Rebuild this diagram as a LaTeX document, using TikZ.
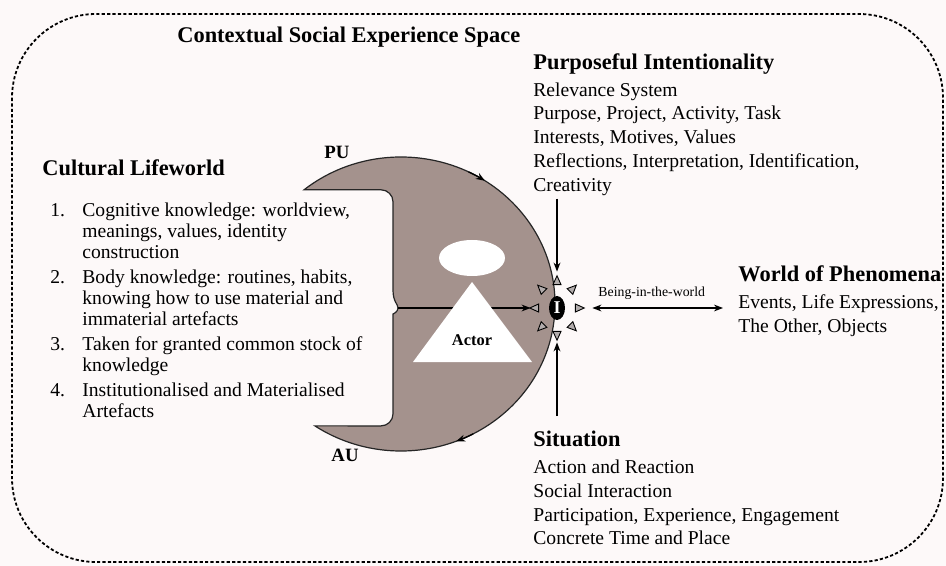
\documentclass[tikz,border=0pt]{standalone}
\usepackage{fontspec}
\setmainfont{Liberation Serif}
\usetikzlibrary{positioning,shapes.geometric,arrows.meta}

\definecolor{paper}{RGB}{253,249,249}
\definecolor{hornfill}{RGB}{164,146,141}
\definecolor{rayfill}{RGB}{178,172,172}

\newcommand{\headfont}{\fontsize{11.2}{13}\selectfont\bfseries}
\newcommand{\bodyfont}{\fontsize{9.8}{11.85}\selectfont}
\newcommand{\listfont}{\fontsize{9.8}{10.5}\selectfont}
\newcommand{\itemno}[1]{\makebox[16pt][l]{#1}}

\tikzstyle{spaceframe}=[draw=black,line width=0.9pt,dash pattern=on 1.6pt off 1.1pt,
                        rounded corners=42pt]
\tikzstyle{horn}=[fill=hornfill,draw=black!85,line width=0.6pt]
\tikzstyle{heading}=[inner sep=0pt,anchor=base west,font=\headfont]
\tikzstyle{body}=[inner sep=0pt,align=left,font=\bodyfont]
\tikzstyle{tag}=[inner sep=0pt,font=\fontsize{9.4}{10}\selectfont\bfseries]
\tikzstyle{selfmark}=[ellipse,fill=black,text=white,inner sep=0pt,
                      minimum width=8pt,minimum height=12pt,
                      font=\fontsize{9}{9}\selectfont\bfseries]
\tikzstyle{sunray}=[isosceles triangle,isosceles triangle stretches,fill=rayfill,
                    draw=black,line width=0.45pt,inner sep=0pt,
                    minimum width=4pt,minimum height=4.4pt]
\tikzstyle{link}=[black,line width=0.65pt]

\begin{document}
\begin{tikzpicture}[x=0.5pt,y=-0.5pt,>={Stealth[length=4.5pt,width=3.4pt]}]

\useasboundingbox (0,0) rectangle (946,566);
\fill[paper] (0,0) rectangle (946,566);
\draw[spaceframe] (12,14) rectangle (943,562);

% the understanding horn: ellipse with a brace shaped bite on the left
\coordinate (cc) at (401,304);
\draw[horn] (cc) ++(-129:154 and 147) coordinate (putip)
  arc[start angle=-129,end angle=124,x radius=154,y radius=147] coordinate (autip)
  -- (350,425.9) [rounded corners=6pt] -- (393,425.9) -- (393,326)
  [sharp corners] .. controls (393,314) and (398,312) .. (398,308)
  .. controls (398,304) and (393,302) .. (393,290)
  [rounded corners=6pt] -- (393,189.8) -- (340,189.8) [sharp corners] -- cycle;
\draw[link,->] (cc) ++(-64:154 and 147) arc[start angle=-64,end angle=-57,x radius=154,y radius=147];
\draw[link,->] (cc) ++(62:154 and 147) arc[start angle=62,end angle=69,x radius=154,y radius=147];

\node[tag] (pu) at (337,152) {PU};
\node[tag] (au) at (345,455) {AU};

% actor
\node[ellipse,fill=white,inner sep=0pt,minimum width=33pt,minimum height=18pt] (head) at (472,258) {};
\coordinate (bt) at (398,308);
\node[selfmark] (self) at (557,308) {I};
\foreach \a in {0,45,...,315}
  \path (self.center) ++(\a:21 and 26) node[sunray,rotate=-\a] {};
\draw[link,->,shorten >=9pt] (bt) -- (self.west);
\fill[white] (472,282) coordinate (apex) -- (532,362) -- (413,362) -- cycle;
\node[inner sep=0pt,font=\fontsize{8.2}{9}\selectfont\bfseries] (actor) at (472,340) {Actor};

% texts
\node[heading] (ctx) at (177,43) {Contextual Social Experience Space};

\node[heading] (pi) at (533,70) {Purposeful Intentionality};
\node[body,below right=3.5pt and 0pt of pi.south west] (pibody)
  {Relevance System\\Purpose, Project, Activity, Task\\Interests, Motives, Values\\
   Reflections, Interpretation, Identification,\\Creativity};

\node[heading] (clw) at (42,176) {Cultural Lifeworld};
\node[body,font=\listfont,below right=13pt and 4pt of clw.south west] (clwlist)
  {\itemno{1.}Cognitive knowledge: worldview,\\
   \itemno{}meanings, values, identity\\
   \itemno{}construction\\[2pt]
   \itemno{2.}Body knowledge: routines, habits,\\
   \itemno{}knowing how to use material and\\
   \itemno{}immaterial artefacts\\[2pt]
   \itemno{3.}Taken for granted common stock of\\
   \itemno{}knowledge\\[2pt]
   \itemno{4.}Institutionalised and Materialised\\
   \itemno{}Artefacts};

\node[heading] (wop) at (738,282) {World of Phenomena};
\node[body,below right=6pt and 0pt of wop.south west] (wopbody)
  {Events, Life Expressions,\\The Other, Objects};

\node[heading] (sit) at (533,446) {Situation};
\node[body,below right=6.5pt and 0pt of sit.south west] (sitbody)
  {Action and Reaction\\Social Interaction\\Participation, Experience, Engagement\\
   Concrete Time and Place};

% connectors to and from the self
\draw[link,->,shorten <=1.5pt,shorten >=12pt] (self |- pibody.south) -- (self.north);
\draw[link,->,shorten <=7pt,shorten >=11pt] (self |- sit.north) -- (self.south);
\draw[link,<->,shorten <=13.5pt,shorten >=7.5pt] (self.east) -- (self -| wopbody.west)
  node[midway,above=4pt,inner sep=0pt,font=\fontsize{6.9}{8}\selectfont] (bw) {Being-in-the-world};

\end{tikzpicture}
\end{document}
